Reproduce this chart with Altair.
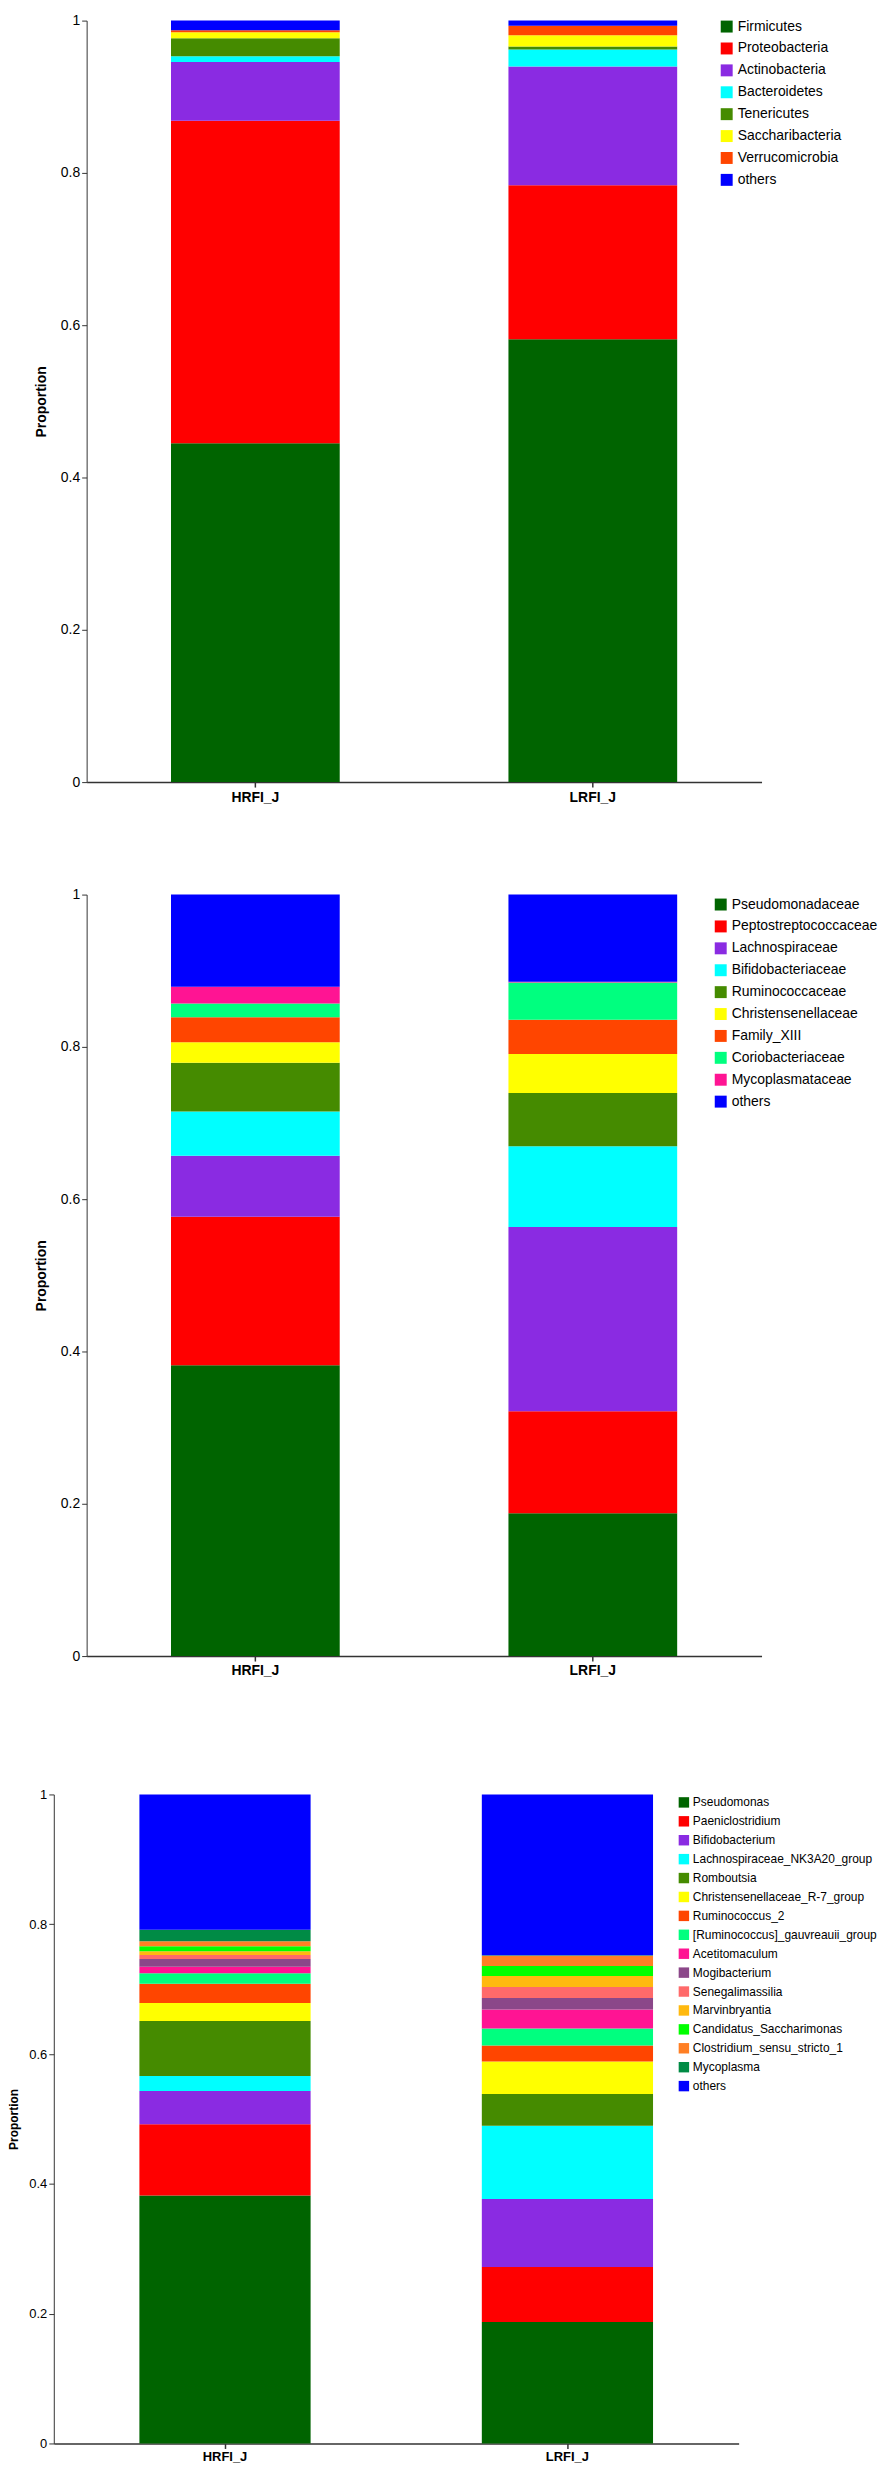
import altair as alt
import pandas as pd

FONT = "Liberation Sans, Arial, Helvetica, sans-serif"

groups = ["HRFI_J", "LRFI_J"]

# ---- Panel 1: phylum ----
phylum_names = ["Firmicutes", "Proteobacteria", "Actinobacteria", "Bacteroidetes",
                "Tenericutes", "Saccharibacteria", "Verrucomicrobia", "others"]
phylum_hrfi = [0.445, 0.4236, 0.0769, 0.0078, 0.0236, 0.0079, 0.0026, 0.0126]
phylum_lrfi = [0.5817, 0.2021, 0.1560, 0.0222, 0.0039, 0.0148, 0.0126, 0.0067]
phylum_colors = ["#006400", "#FF0000", "#8A2BE2", "#00FFFF", "#458B00", "#FFFF00",
                 "#FF4500", "#0000FF"]

# ---- Panel 2: family ----
family_names = ["Pseudomonadaceae", "Peptostreptococcaceae", "Lachnospiraceae",
                "Bifidobacteriaceae", "Ruminococcaceae", "Christensenellaceae",
                "Family_XIII", "Coriobacteriaceae", "Mycoplasmataceae", "others"]
family_hrfi = [0.382, 0.195, 0.080, 0.058, 0.064, 0.027, 0.033, 0.018, 0.022, 0.121]
family_lrfi = [0.1875, 0.134, 0.242, 0.106, 0.070, 0.051, 0.045, 0.049, 0.001, 0.1145]
family_colors = ["#006400", "#FF0000", "#8A2BE2", "#00FFFF", "#458B00", "#FFFF00",
                 "#FF4500", "#00FF7F", "#FF1493", "#0000FF"]

# ---- Panel 3: genus ----
genus_names = ["Pseudomonas", "Paeniclostridium", "Bifidobacterium",
               "Lachnospiraceae_NK3A20_group", "Romboutsia", "Christensenellaceae_R-7_group",
               "Ruminococcus_2", "[Ruminococcus]_gauvreauii_group", "Acetitomaculum",
               "Mogibacterium", "Senegalimassilia", "Marvinbryantia",
               "Candidatus_Saccharimonas", "Clostridium_sensu_stricto_1", "Mycoplasma", "others"]
genus_hrfi = [0.382, 0.110, 0.051, 0.023, 0.085, 0.0275, 0.030, 0.016, 0.010, 0.012,
              0.006, 0.006, 0.0076, 0.0076, 0.018, 0.2083]
genus_lrfi = [0.187, 0.085, 0.1045, 0.113, 0.049, 0.050, 0.0245, 0.0265, 0.029, 0.0177,
              0.0173, 0.0167, 0.0153, 0.0158, 0.001, 0.2477]
genus_colors = ["#006400", "#FF0000", "#8A2BE2", "#00FFFF", "#458B00", "#FFFF00",
                "#FF4500", "#00FF7F", "#FF1493", "#8B4789", "#FF6A6A", "#FFB90F",
                "#00FF00", "#FF7F24", "#008B45", "#0000FF"]


def make_df(names, hr, lr):
    rows = []
    for g, vals in zip(groups, [hr, lr]):
        for i, (n, v) in enumerate(zip(names, vals)):
            rows.append({"group": g, "taxon": n, "value": v, "idx": i})
    return pd.DataFrame(rows)


def panel(names, hr, lr, colors, width, height, xrange, yrange, yoffset, title_x,
          fs, title_fs, legend_fs, legend_x, legend_y, row_pad, sym_size, label_offset,
          x_pad):
    df = make_df(names, hr, lr)
    return alt.Chart(df).mark_bar().encode(
        x=alt.X("group:N", sort=groups, title=None,
                scale=alt.Scale(range=xrange, paddingInner=0.5, paddingOuter=0.25),
                axis=alt.Axis(labelAngle=0, labelFont=FONT, labelFontWeight="bold",
                              labelFontSize=fs, labelColor="black", tickSize=5,
                              labelPadding=x_pad, domainColor="#333", tickColor="#333",
                              domainWidth=1.5, tickWidth=1.5, grid=False)),
        y=alt.Y("value:Q", stack="zero", title="Proportion",
                scale=alt.Scale(domain=[0, 1], range=yrange, nice=False),
                axis=alt.Axis(values=[0, 0.2, 0.4, 0.6, 0.8, 1], format="~g",
                              offset=yoffset, titleX=title_x, grid=False,
                              labelFont=FONT, labelFontSize=fs, labelColor="black",
                              tickSize=5, labelPadding=2, domainColor="#333",
                              tickColor="#333", titleFont=FONT, titleFontWeight="bold",
                              titleFontSize=title_fs, titleColor="black")),
        color=alt.Color("taxon:N",
                        scale=alt.Scale(domain=names, range=colors),
                        legend=alt.Legend(orient="none", legendX=legend_x, legendY=legend_y,
                                          title=None, symbolType="square",
                                          symbolSize=sym_size, symbolStrokeWidth=0,
                                          labelFont=FONT, labelFontSize=legend_fs,
                                          labelColor="black", labelOffset=label_offset,
                                          rowPadding=row_pad, padding=0,
                                          labelLimit=300)),
        order=alt.Order("idx:Q", sort="ascending"),
    ).properties(width=width, height=height)


p1 = panel(phylum_names, phylum_hrfi, phylum_lrfi, phylum_colors,
           711, 765, [33, 711], [765, 0], -33, -38, 14, 14, 14, 669, -1, 8, 144, 4, 3)
p2 = panel(family_names, family_hrfi, family_lrfi, family_colors,
           711, 765, [33, 711], [765, 0], -33, -38, 14, 14, 14, 663, 3, 8, 144, 4, 3)
p3 = panel(genus_names, genus_hrfi, genus_lrfi, genus_colors,
           688, 678, [0, 688], [678, 26], 0, -33, 13, 12, 12, 627, 28, 7, 110, 3, 2)

chart = alt.vconcat(p1, p2, p3, spacing=113, bounds="flush", padding=0).resolve_scale(
    color="independent").resolve_legend(color="independent").configure_view(stroke=None)

chart.save("out.html", embed_options={"renderer": "svg", "actions": False})
